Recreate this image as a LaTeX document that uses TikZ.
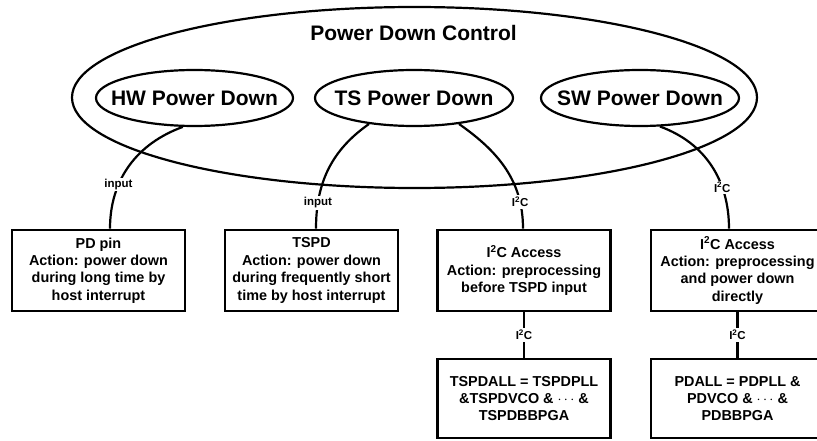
\documentclass[tikz,border=0pt]{standalone}
\usepackage{fontspec}
\setmainfont{Liberation Sans}
\usepackage{tikz}
\usetikzlibrary{shapes.geometric}

\tikzset{
  pdell/.style={draw, ellipse, line width=2.2pt, inner sep=0pt},
  pdbox/.style={draw, rectangle, line width=2.8pt, minimum width=173pt,
    minimum height=81pt, align=center, inner sep=0pt,
    font=\fontsize{14.4}{17.4}\selectfont\bfseries},
  conn/.style={line width=2.2pt},
  lbl/.style={fill=white, inner sep=1.5pt, font=\fontsize{11.5}{13}\selectfont\bfseries},
  titel/.style={font=\fontsize{21}{25}\selectfont\bfseries}
}

\begin{document}
\begin{tikzpicture}[x=1pt, y=1pt]
\useasboundingbox (0,0) rectangle (817,440);

% Aeussere Ellipse
\node[pdell, minimum width=685pt, minimum height=181pt] (pdc) at (414.5,342.5) {};
\node[titel, anchor=base] (pdctitel) at (413.5,399.3) {Power Down Control};

% Innere Ellipsen
\node[pdell, minimum width=197pt, minimum height=56pt,
  label={[titel]center:HW Power Down}] (hw) at (194.5,342) {};
\node[pdell, minimum width=198pt, minimum height=56pt,
  label={[titel]center:TS Power Down}] (ts) at (414,342) {};
\node[pdell, minimum width=198pt, minimum height=56pt,
  label={[titel]center:SW Power Down}] (sw) at (640,342) {};

% Kaesten oben
\node[pdbox] (pd) at (98.5,169.5) {PD pin\\Action: power down\\during long time by\\host interrupt};
\node[pdbox] (tspd) at (311.5,169.5) {TSPD\\Action: power down\\during frequently short\\time by host interrupt};
\node[pdbox] (ica) at (524,169.5) {I\textsuperscript{2}C Access\\Action: preprocessing\\before TSPD input};
\node[pdbox] (icb) at (737.5,169.5) {I\textsuperscript{2}C Access\\Action: preprocessing\\and power down\\directly};

% Kaesten unten
\node[pdbox, minimum height=79pt] (tsall) at (524,41.5) {TSPDALL = TSPDPLL\\\&TSPDVCO \& $\cdots$ \&\\TSPDBBPGA};
\node[pdbox, minimum height=79pt] (pdall) at (737.5,41.5) {PDALL = PDPLL \&\\PDVCO \& $\cdots$ \&\\PDBBPGA};

% Verbindungen
\draw[conn] (hw.248) to[out=200, in=90] node[lbl, pos=0.67] {input} ([xshift=11.5pt]pd.north);
\draw[conn] (ts.210) to[out=215, in=90] node[lbl, pos=0.8] {input} ([xshift=4.5pt]tspd.north);
\draw[conn] (ts.330) to[out=-35, in=90] node[lbl, pos=0.8] {I\textsuperscript{2}C} ([xshift=-1pt]ica.north);
\draw[conn] (sw.305) to[out=-20, in=90] node[lbl, pos=0.69] {I\textsuperscript{2}C} ([xshift=-8.5pt]icb.north);
\draw[conn] (ica) -- node[lbl] {I\textsuperscript{2}C} (tsall);
\draw[conn] (icb) -- node[lbl] {I\textsuperscript{2}C} (pdall);

\end{tikzpicture}
\end{document}
